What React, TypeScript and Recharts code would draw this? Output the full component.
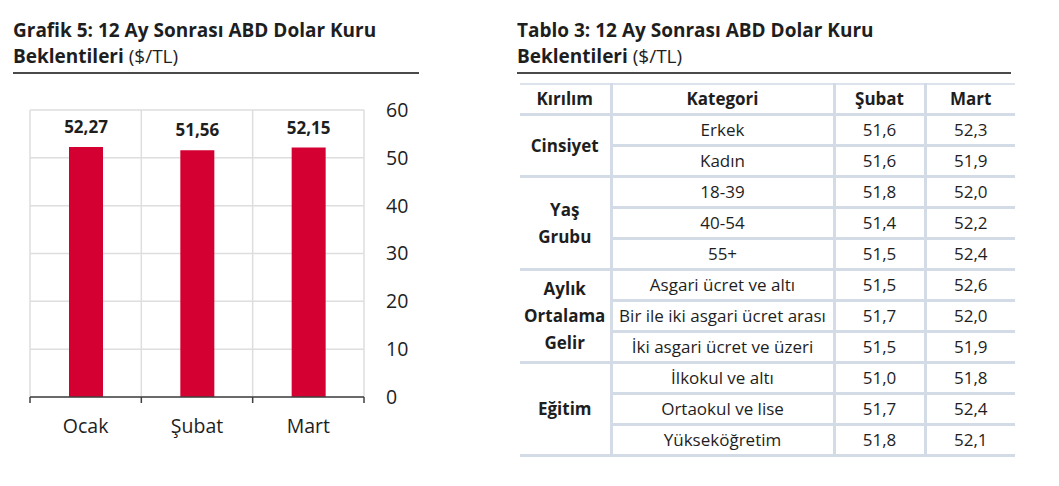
import { BarChart, Bar, XAxis, YAxis, CartesianGrid, LabelList } from 'recharts';

const MONTHS = ['Ocak', 'Şubat', 'Mart'];
const EXPECTATIONS = [52.27, 51.56, 52.15];
const Y_TICKS = [0, 10, 20, 30, 40, 50, 60];

const TABLE_HEADERS = ['Kırılım', 'Kategori', 'Şubat', 'Mart'];
const GROUPS = ['Cinsiyet', 'Yaş Grubu', 'Aylık Ortalama Gelir', 'Eğitim'];
const GROUP_SIZES = [2, 3, 3, 3];
const CATEGORIES = [
  'Erkek',
  'Kadın',
  '18-39',
  '40-54',
  '55+',
  'Asgari ücret ve altı',
  'Bir ile iki asgari ücret arası',
  'İki asgari ücret ve üzeri',
  'İlkokul ve altı',
  'Ortaokul ve lise',
  'Yükseköğretim',
];
const SUBAT_VALUES = [51.6, 51.6, 51.8, 51.4, 51.5, 51.5, 51.7, 51.5, 51.0, 51.7, 51.8];
const MART_VALUES = [52.3, 51.9, 52.0, 52.2, 52.4, 52.6, 52.0, 51.9, 51.8, 52.4, 52.1];

const FONT = '"Open Sans", "Noto Sans", sans-serif';
const RED = '#d40032';
const TEXT = '#1e1e1e';
const GRID = '#dedede';
const CELL_LINE = '3px solid #d3dbe7';

// chart geometry
const CHART_W = 440;
const CHART_H = 486;
const M = { top: 110, left: 30, right: 16, bottom: 49 };
const Y_AXIS_W = 60;
const PLOT_W = CHART_W - M.left - M.right - Y_AXIS_W;
const PLOT_BOTTOM = CHART_H - M.bottom - 40;

const fmt = (v: number, d: number) => v.toFixed(d).replace('.', ',');

const chartData = MONTHS.map((m, i) => ({ month: m, value: EXPECTATIONS[i] }));

function MonthTick(props: any) {
  const { x, payload, index } = props;
  const band = PLOT_W / MONTHS.length;
  const left = x - band / 2;
  return (
    <g>
      <line x1={left} x2={left} y1={PLOT_BOTTOM} y2={PLOT_BOTTOM + 6} stroke="#404040" strokeWidth={1.5} />
      {index === MONTHS.length - 1 && (
        <line x1={left + band} x2={left + band} y1={PLOT_BOTTOM} y2={PLOT_BOTTOM + 6} stroke="#404040" strokeWidth={1.5} />
      )}
      <text x={x} y={PLOT_BOTTOM + 36} textAnchor="middle" fill={TEXT} fontSize={19.5} fontFamily={FONT}>
        {payload.value}
      </text>
    </g>
  );
}

function Title({ left, width, main, unit, sub }: { left: number; width: number; main: string; sub: string; unit: string }) {
  return (
    <>
      <div
        style={{
          position: 'absolute',
          left,
          top: 17,
          fontSize: 19,
          lineHeight: '26px',
          color: TEXT,
          fontFamily: FONT,
          whiteSpace: 'nowrap',
        }}
      >
        <div style={{ fontWeight: 700 }}>{main}</div>
        <div>
          <span style={{ fontWeight: 700 }}>{sub}</span> {unit}
        </div>
      </div>
      <div style={{ position: 'absolute', left, top: 72, width, height: 1.5, background: '#4a4a4a' }} />
    </>
  );
}

function ExpectationTable() {
  const colW = [91, 223, 91, 90];
  let rowIdx = 0;
  const rows: JSX.Element[] = [];
  GROUPS.forEach((g, gi) => {
    for (let k = 0; k < GROUP_SIZES[gi]; k++) {
      const i = rowIdx++;
      const cellStyle = (extra: any) => ({
        borderTop: CELL_LINE,
        borderBottom: CELL_LINE,
        padding: 0,
        textAlign: 'center' as const,
        whiteSpace: 'nowrap' as const,
        ...extra,
      });
      rows.push(
        <tr key={i} style={{ height: 31 }}>
          {k === 0 && (
            <td
              rowSpan={GROUP_SIZES[gi]}
              style={cellStyle({ fontWeight: 700, lineHeight: '27px', borderRight: CELL_LINE })}
            >
              {g.split(' ').map((w, wi) => (
                <div key={wi}>{w}</div>
              ))}
            </td>
          )}
          <td style={cellStyle({ borderRight: CELL_LINE })}>{CATEGORIES[i]}</td>
          <td style={cellStyle({ borderRight: CELL_LINE })}>{fmt(SUBAT_VALUES[i], 1)}</td>
          <td style={cellStyle({})}>{fmt(MART_VALUES[i], 1)}</td>
        </tr>
      );
    }
  });

  return (
    <table
      style={{
        position: 'absolute',
        left: 520,
        top: 83,
        width: 495,
        borderCollapse: 'collapse',
        tableLayout: 'fixed',
        fontFamily: FONT,
        fontSize: 17,
        lineHeight: '20px',
        color: TEXT,
      }}
    >
      <colgroup>
        {colW.map((w, i) => (
          <col key={i} style={{ width: w }} />
        ))}
      </colgroup>
      <thead>
        <tr style={{ height: 30 }}>
          {TABLE_HEADERS.map((h, i) => (
            <th
              key={h}
              style={{
                borderTop: '2px solid #dde3ec',
                borderBottom: CELL_LINE,
                borderRight: i < TABLE_HEADERS.length - 1 ? CELL_LINE : undefined,
                padding: 0,
                fontWeight: 700,
                textAlign: 'center',
              }}
            >
              {h}
            </th>
          ))}
        </tr>
      </thead>
      <tbody>{rows}</tbody>
    </table>
  );
}

export default function App() {
  return (
    <div style={{ position: 'absolute', left: 0, top: 0, width: 1059, height: 486, background: '#fff', fontFamily: FONT }}>
      <Title left={13} width={406} main="Grafik 5: 12 Ay Sonrası ABD Dolar Kuru" sub="Beklentileri" unit="($/TL)" />
      <Title left={517} width={494} main="Tablo 3: 12 Ay Sonrası ABD Dolar Kuru" sub="Beklentileri" unit="($/TL)" />

      <div style={{ position: 'absolute', left: 0, top: 0 }}>
        <BarChart width={CHART_W} height={CHART_H} data={chartData} margin={M}>
          <CartesianGrid
            stroke={GRID}
            strokeWidth={1.5}
            verticalCoordinatesGenerator={({ offset }: any) =>
              MONTHS.map((_, i) => offset.left + (i * offset.width) / MONTHS.length).concat(offset.left + offset.width)
            }
          />
          <XAxis
            dataKey="month"
            height={40}
            axisLine={{ stroke: '#404040', strokeWidth: 1.5 }}
            tickLine={false}
            tick={<MonthTick />}
            interval={0}
          />
          <YAxis
            orientation="right"
            width={Y_AXIS_W}
            domain={[0, 60]}
            ticks={Y_TICKS}
            axisLine={false}
            tickLine={false}
            tickSize={0}
            tickMargin={22}
            tick={{ fill: TEXT, fontSize: 19.5, fontFamily: FONT, textAnchor: 'start' }}
          />
          <Bar dataKey="value" fill={RED} barSize={34} isAnimationActive={false}>
            <LabelList
              dataKey="value"
              position="top"
              offset={14}
              formatter={(v: any) => fmt(Number(v), 2)}
              style={{ fill: TEXT, fontSize: 17, fontWeight: 700, fontFamily: FONT }}
            />
          </Bar>
        </BarChart>
      </div>

      <ExpectationTable />
    </div>
  );
}
